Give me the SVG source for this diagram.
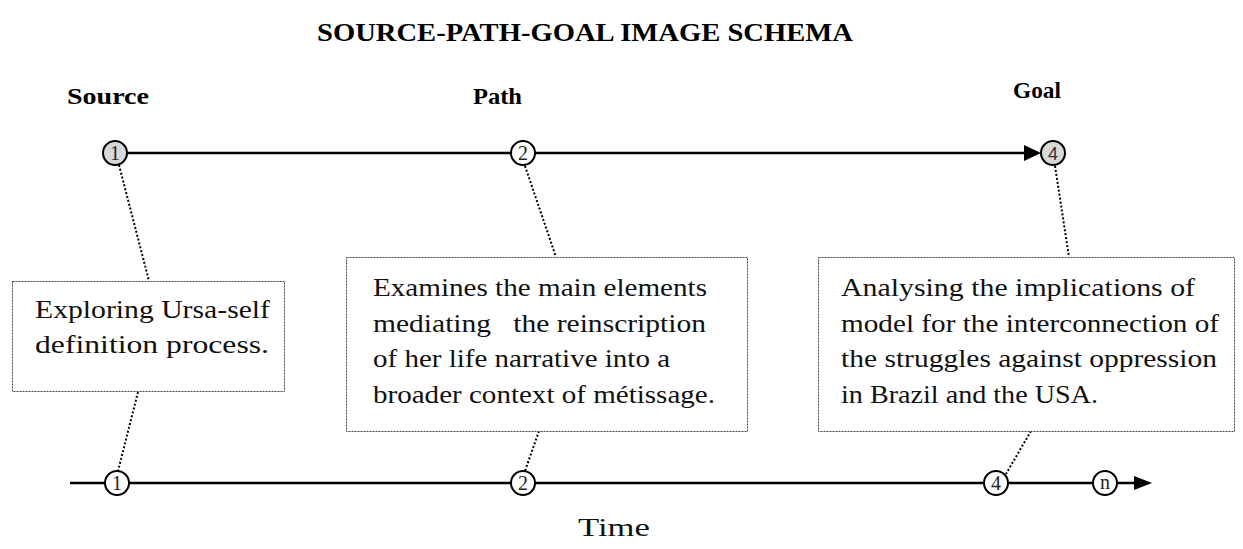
<svg xmlns="http://www.w3.org/2000/svg" width="1243" height="549" viewBox="0 0 1243 549">
  <style>
    .title { font-family: "Liberation Serif", "Times New Roman", serif; font-weight: bold; font-size: 25px; fill: #000; }
    .label { font-family: "Liberation Serif", "Times New Roman", serif; font-weight: bold; font-size: 24px; fill: #000; }
    .body { font-family: "Liberation Serif", "Times New Roman", serif; font-size: 26px; fill: #111; }
    .num { font-family: "Liberation Serif", "Times New Roman", serif; font-size: 20px; fill: #222; text-anchor: middle; }
    .numsans { font-family: "Liberation Sans", Arial, sans-serif; font-size: 18px; fill: #333; text-anchor: middle; }
    .axis { stroke: #000; stroke-width: 2.6; fill: none; }
    .head { fill: #000; }
    .lead { stroke: #000; stroke-width: 2; stroke-dasharray: 2 2; fill: none; }
    .box { fill: #fff; stroke: #444; stroke-width: 1; stroke-dasharray: 2 1; }
    .dot-on { fill: #d8d8d8; stroke: #000; stroke-width: 2; }
    .dot-off { fill: #fff; stroke: #000; stroke-width: 2; }
  </style>

  <!-- heading -->
  <text class="title" x="317" y="41" textLength="536" lengthAdjust="spacingAndGlyphs">SOURCE-PATH-GOAL IMAGE SCHEMA</text>
  <text class="label" x="67" y="104" textLength="82" lengthAdjust="spacingAndGlyphs">Source</text>
  <text class="label" x="473" y="104" textLength="49" lengthAdjust="spacingAndGlyphs">Path</text>
  <text class="label" x="1013" y="98" textLength="48" lengthAdjust="spacingAndGlyphs">Goal</text>

  <!-- axes and dotted leaders -->
  <g id="connectors">
    <line class="axis" x1="127" y1="153" x2="1026" y2="153"/>
    <polygon class="head" points="1024,145 1041,153 1024,161"/>
    <line class="axis" x1="70" y1="483" x2="1136" y2="483"/>
    <polygon class="head" points="1134,476 1152,483 1134,490"/>

    <line class="lead" x1="119" y1="165" x2="149" y2="281"/>
    <line class="lead" x1="525" y1="166" x2="556" y2="257"/>
    <line class="lead" x1="1055" y1="166" x2="1069" y2="257"/>
    <line class="lead" x1="138" y1="392" x2="118" y2="471"/>
    <line class="lead" x1="539" y1="431" x2="525" y2="471"/>
    <line class="lead" x1="1031" y1="431" x2="1006" y2="474"/>
  </g>

  <!-- stage markers on the schema line -->
  <g id="source-top">
    <circle class="dot-on" cx="115" cy="153" r="12"/>
    <text class="num" x="115" y="160">1</text>
  </g>
  <g id="path-top">
    <circle class="dot-off" cx="523" cy="153" r="12"/>
    <text class="num" x="523" y="160">2</text>
  </g>
  <g id="goal-top">
    <circle class="dot-on" cx="1053" cy="153" r="12"/>
    <text class="numsans" x="1053" y="159.5">4</text>
  </g>

  <!-- description boxes -->
  <g id="box-source">
    <rect class="box" x="12.5" y="281.5" width="272" height="110"/>
    <text class="body" x="35" y="318" textLength="235" lengthAdjust="spacingAndGlyphs">Exploring Ursa-self</text>
    <text class="body" x="35" y="353" textLength="234" lengthAdjust="spacingAndGlyphs">definition process.</text>
  </g>
  <g id="box-path">
    <rect class="box" x="346.5" y="257.5" width="401" height="174"/>
    <text class="body" x="373" y="296" textLength="334" lengthAdjust="spacingAndGlyphs">Examines the main elements</text>
    <text class="body" x="373" y="332" textLength="333" lengthAdjust="spacingAndGlyphs" xml:space="preserve">mediating   the reinscription</text>
    <text class="body" x="373" y="367" textLength="297" lengthAdjust="spacingAndGlyphs">of her life narrative into a</text>
    <text class="body" x="373" y="403" textLength="342" lengthAdjust="spacingAndGlyphs">broader context of métissage.</text>
  </g>
  <g id="box-goal">
    <rect class="box" x="818.5" y="257.5" width="416" height="174"/>
    <text class="body" x="841" y="296" textLength="354" lengthAdjust="spacingAndGlyphs">Analysing the implications of</text>
    <text class="body" x="841" y="332" textLength="378" lengthAdjust="spacingAndGlyphs">model for the interconnection of</text>
    <text class="body" x="841" y="367" textLength="376" lengthAdjust="spacingAndGlyphs">the struggles against oppression</text>
    <text class="body" x="841" y="403" textLength="257" lengthAdjust="spacingAndGlyphs">in Brazil and the USA.</text>
  </g>

  <!-- stage markers on the time line -->
  <g id="source-time">
    <circle class="dot-off" cx="117" cy="483" r="12"/>
    <text class="num" x="117" y="490">1</text>
  </g>
  <g id="path-time">
    <circle class="dot-off" cx="523" cy="483" r="12"/>
    <text class="num" x="523" y="490">2</text>
  </g>
  <g id="goal-time">
    <circle class="dot-off" cx="996" cy="483" r="12"/>
    <text class="num" x="996" y="490">4</text>
  </g>
  <g id="n-time">
    <circle class="dot-off" cx="1105" cy="483" r="12"/>
    <text class="num" x="1105" y="489">n</text>
  </g>

  <text class="body" x="578" y="536" font-size="32" textLength="72" lengthAdjust="spacingAndGlyphs">Time</text>
</svg>
